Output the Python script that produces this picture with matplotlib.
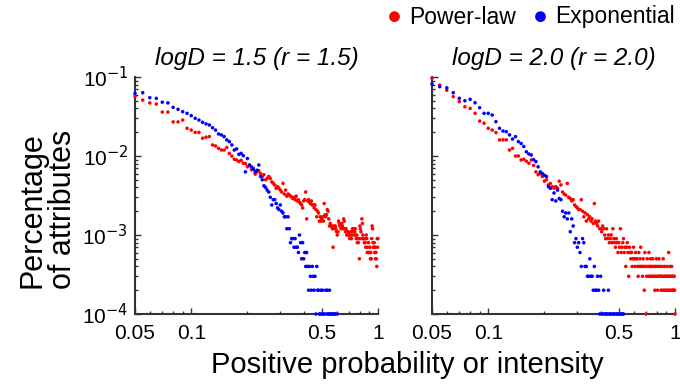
import matplotlib
matplotlib.use("Agg")
import matplotlib.pyplot as plt
from matplotlib.ticker import FixedLocator, NullFormatter, LogLocator
import numpy as np

# histogram bins of positive probability (width 0.005, 0.05 .. 1.0)
bins = np.round(np.arange(0.05, 1.0001, 0.005), 3)
total = 10000.0

# counts per bin, logD = 1.5 (r = 1.5)
left_power = [
    570, 510, 470, 455, 360, 360, 270, 270, 285, 224,
    213, 199, 199, 168, 173, 176, 138, 134, 125, 119,
    119, 128, 108, 100, 91, 89, 85, 88, 81, 80,
    73, 76, 67, 70, 59, 63, 65, 60, 55, 58,
    50, 52, 55, 52, 47, 45, 43, 39, 41, 39,
    37, 35, 45, 33, 37, 31, 33, 32, 31, 30,
    29, 30, 28, 31, 27, 28, 26, 25, 24, 22,
    27, 28, 35, 16, 27, 28, 26, 25, 27, 24,
    24, 22, 24, 21, 17, 20, 19, 15, 17, 15,
    16, 17, 15, 25, 18, 17, 18, 21, 20, 16,
    13, 14, 13, 13, 12, 7, 13, 12, 13, 12,
    11, 10, 11, 15, 14, 13, 13, 12, 14, 13,
    12, 16, 15, 12, 11, 12, 10, 11, 11, 10,
    10, 9, 10, 11, 9, 10, 12, 11, 12, 10,
    11, 12, 10, 9, 10, 8, 9, 8, 9, 5,
    13, 12, 11, 9, 16, 14, 10, 9, 9, 8,
    9, 8, 7, 10, 9, 6, 7, 6, 8, 6,
    6, 7, 5, 6, 5, 9, 13, 12, 8, 7,
    7, 8, 6, 7, 5, 6, 5, 4, 9, 7,
    9]

left_expo = [
    620, 633, 547, 537, 480, 470, 413, 390, 364, 347,
    324, 300, 285, 267, 255, 247, 228, 213, 190, 185,
    176, 160, 152, 138, 119, 123, 105, 108, 101, 63,
    93, 77, 73, 68, 63, 66, 77, 55, 50, 42,
    40, 37, 35, 30, 24, 28, 28, 25, 22, 21,
    24, 20, 19, 17, 17, 12, 17, 12, 8, 9,
    9, 7, 9, 7, 7, 6, 10, 8, 5, 8,
    5, 6, 4, 6, 4, 2, 4, 3, 2, 4,
    3, 2, 3, 1, 4, 2, 2, 1, 1, 2,
    1, 2, 1, 1, 0, 2, 1, 2, 1, 1,
    2, 1, 1, 0, 1, 1, 0, 1, 1, 0,
    0, 1, 0, 0, 0, 0, 0, 0, 0, 0] + [0] * 71

# counts per bin, logD = 2.0 (r = 2.0)
right_power = [
    960, 790, 680, 563, 487, 420, 400, 347, 277, 260,
    224, 213, 198, 160, 160, 160, 119, 125, 100, 100,
    89, 91, 86, 81, 89, 76, 63, 58, 60, 55,
    48, 50, 43, 45, 41, 39, 41, 39, 48, 43,
    35, 33, 32, 45, 30, 29, 27, 28, 24, 23,
    22, 21, 21, 28, 20, 17, 19, 15, 18, 16,
    17, 15, 16, 14, 25, 15, 14, 13, 15, 12,
    12, 11, 13, 12, 10, 9, 12, 9, 10, 8,
    9, 10, 8, 12, 9, 8, 7, 9, 8, 6,
    8, 7, 12, 6, 7, 8, 9, 6, 7, 4,
    7, 8, 6, 3, 7, 6, 5, 6, 4, 5,
    7, 5, 4, 6, 5, 5, 4, 3, 6, 4,
    5, 7, 4, 4, 3, 5, 4, 2, 6, 4,
    1, 3, 5, 4, 3, 6, 4, 3, 5, 4,
    3, 4, 5, 3, 3, 4, 2, 3, 4, 5,
    3, 2, 4, 3, 5, 3, 4, 3, 2, 3,
    3, 4, 2, 5, 3, 2, 4, 3, 3, 2,
    2, 3, 4, 3, 2, 6, 3, 2, 4, 3,
    2, 3, 4, 3, 2, 2, 3, 2, 3, 2,
    1]

right_expo = [
    816, 754, 730, 633, 537, 500, 522, 473, 409, 347,
    347, 330, 272, 224, 207, 203, 185, 164, 176, 152,
    144, 132, 113, 106, 103, 90, 85, 73, 63, 60,
    57, 55, 41, 39, 28, 34, 27, 37, 29, 28,
    20, 17, 19, 16, 19, 11, 16, 13, 8, 9,
    7, 8, 6, 4, 9, 8, 4, 4, 3, 3,
    5, 3, 3, 2, 4, 2, 2, 3, 2, 1,
    3, 1, 1, 2, 1, 1, 1, 1, 2, 1,
    1, 1, 0, 1, 1, 1, 0, 1, 1, 0,
    1, 0, 1, 1, 0, 1, 1, 0, 0, 0] + [0] * 91

titles = ["logD = 1.5 (r = 1.5)", "logD = 2.0 (r = 2.0)"]
panels = [(left_power, left_expo), (right_power, right_expo)]

plt.rcParams['font.family'] = ['Liberation Sans', 'DejaVu Sans']

fig = plt.figure(figsize=(6.8, 3.85), dpi=100)
ax_l = fig.add_axes([135 / 680, 71 / 385, 243 / 680, 237 / 385])
ax_r = fig.add_axes([432 / 680, 71 / 385, 243 / 680, 237 / 385])
axes = [ax_l, ax_r]

for i, ax in enumerate(axes):
    pw, ex = panels[i]
    for counts, col in [(pw, 'red'), (ex, 'blue')]:
        c = np.array(counts, dtype=float)
        keep = c > 0
        ax.scatter(bins[keep], c[keep] / total, s=6.5, color=col,
                   edgecolors='none', clip_on=False, zorder=3)
    ax.set_xscale('log')
    ax.set_yscale('log')
    ax.set_xlim(0.05, 1.0)
    ax.set_ylim(1e-4, 1e-1)
    ax.spines['top'].set_visible(False)
    ax.spines['right'].set_visible(False)
    for s in ['left', 'bottom']:
        ax.spines[s].set_linewidth(1.5)
        ax.spines[s].set_color('#333333')
    ax.xaxis.set_major_locator(FixedLocator([0.05, 0.1, 0.5, 1.0]))
    ax.xaxis.set_minor_locator(FixedLocator([0.06, 0.07, 0.08, 0.09, 0.2, 0.3,
                                             0.4, 0.6, 0.7, 0.8, 0.9]))
    ax.xaxis.set_minor_formatter(NullFormatter())
    ax.set_xticklabels(['0.05', '0.1', '0.5', '1'])
    ax.yaxis.set_minor_locator(LogLocator(base=10, subs=np.arange(2, 10)))
    ax.yaxis.set_minor_formatter(NullFormatter())
    ax.tick_params(which='both', direction='in', color='#333333', width=1)
    ax.tick_params(which='major', length=4, labelsize=15)
    ax.tick_params(axis='x', which='major', pad=7)
    ax.tick_params(axis='y', which='major', pad=5)
    ax.tick_params(which='minor', length=2)
    ax.set_title(titles[i], fontsize=17.5, style='italic', pad=9)
    if i == 1:
        ax.set_yticklabels([])
    else:
        ax.set_yticks([1e-4, 1e-3, 1e-2, 1e-1])
        ax.set_yticklabels([r'10$^{-4}$', r'10$^{-3}$', r'10$^{-2}$', r'10$^{-1}$'])

fig.text(0.599, 1 - 373 / 385, 'Positive probability or intensity', ha='center',
         va='baseline', fontsize=21)
fig.text(0.07, 0.455, 'Percentage\nof attributes', ha='center', va='center',
         rotation=90, fontsize=22, linespacing=1.05)

# legend
fig.text(394 / 680, 1 - 17 / 385, '\u25cf', color='red', fontsize=18,
         ha='center', va='center')
fig.text(409 / 680, 1 - 17 / 385, 'Power-law', fontsize=16.5, va='center')
fig.text(540 / 680, 1 - 17 / 385, '\u25cf', color='blue', fontsize=18,
         ha='center', va='center')
fig.text(555 / 680, 1 - 17 / 385, 'Exponential', fontsize=16.5, va='center')

fig.savefig('out.png', dpi=100)
